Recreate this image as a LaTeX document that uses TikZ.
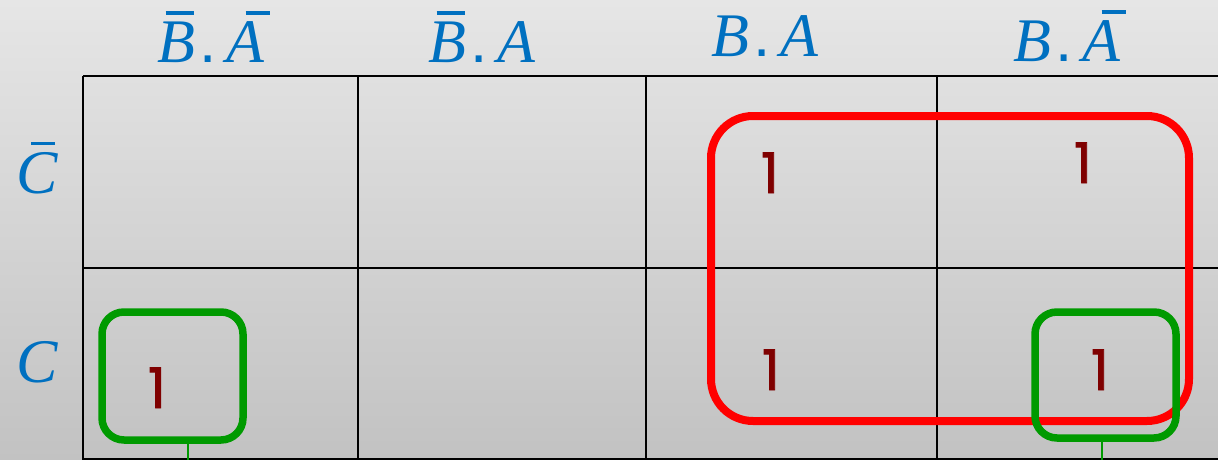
\documentclass[tikz,border=0pt]{standalone}
\usepackage{fontspec}
\setmainfont{Liberation Serif}
\newfontfamily\onefont[FakeBold=1.6]{Poppins}
\newfontfamily\dotfont{Liberation Sans}
\definecolor{lblblue}{HTML}{0070C0}
\definecolor{onered}{HTML}{7F0000}
\definecolor{grpred}{HTML}{FF0000}
\definecolor{grpgreen}{HTML}{009A00}
\definecolor{bgtop}{HTML}{E6E6E6}
\definecolor{bgbot}{HTML}{C2C2C2}
\newcommand\ob[3]{\leavevmode\rlap{\kern#1pt\raisebox{48pt}{\rule{#2pt}{3.5pt}}}#3}
\newcommand\pdot{{\upshape\dotfont.}}
\tikzset{
  gridline/.style={line width=2.5pt, black},
  lbl/.style={anchor=base, inner sep=0pt, text=lblblue, font=\fontsize{62}{70}\selectfont\itshape},
  one/.style={anchor=base, inner sep=0pt, text=onered, font=\onefont\fontsize{56}{60}\selectfont},
  redgroup/.style={draw=grpred, line width=8pt, rounded corners=42pt, inner sep=0pt},
  greengroup/.style={draw=grpgreen, line width=7.5pt, rounded corners=22pt, inner sep=0pt},
  tail/.style={draw=grpgreen, line width=1.5pt}
}
\begin{document}
\begin{tikzpicture}[x=1pt,y=-1pt]
\useasboundingbox (0,0) rectangle (1218,460);
\shade[top color=bgtop, bottom color=bgbot] (0,0) rectangle (1218,460);
% grid
\draw[gridline] (83,76) -- (1218,76);
\draw[gridline] (83,268) -- (1218,268);
\draw[gridline] (83,459) -- (1218,459);
\draw[gridline] (83,76) -- (83,460);
\draw[gridline] (358,76) -- (358,460);
\draw[gridline] (646,76) -- (646,460);
\draw[gridline] (937,76) -- (937,460);
% column labels
\node[lbl] (h1) at (211,63) {\ob{8}{28}{B}\kern4pt\pdot\kern10pt\ob{19}{24}{A}};
\node[lbl] (h2) at (482,63) {\ob{8}{28}{B}\kern4pt\pdot\kern10pt A};
\node[lbl] (h3) at (765,57) {B\kern4pt\pdot\kern10pt A};
\node[lbl] (h4) at (1067,62) {B\kern4pt\pdot\kern10pt\ob{19}{24}{A}};
% row labels
\node[lbl] (r1) at (37,193) {\ob{15}{24}{C}};
\node[lbl] (r2) at (37,382) {C};
% ones
\node[one] (o1) at (770,193) {1};
\node[one] (o2) at (1083,183) {1};
\node[one] (o3) at (157,408) {1};
\node[one] (o4) at (771,390) {1};
\node[one] (o5) at (1100,390) {1};
% groups
\node[redgroup, minimum width=478pt, minimum height=305pt] (red) at (950,268.5) {};
\node[greengroup, minimum width=141pt, minimum height=128pt] (g1) at (172.5,376) {};
\node[greengroup, minimum width=141pt, minimum height=126pt] (g2) at (1105.5,375) {};
\coordinate (g1tail) at (188,460);
\coordinate (g2tail) at (1102,460);
\draw[tail] (g1tail |- g1.south) -- (g1tail);
\draw[tail] (g2tail |- g2.south) -- (g2tail);
\end{tikzpicture}
\end{document}
